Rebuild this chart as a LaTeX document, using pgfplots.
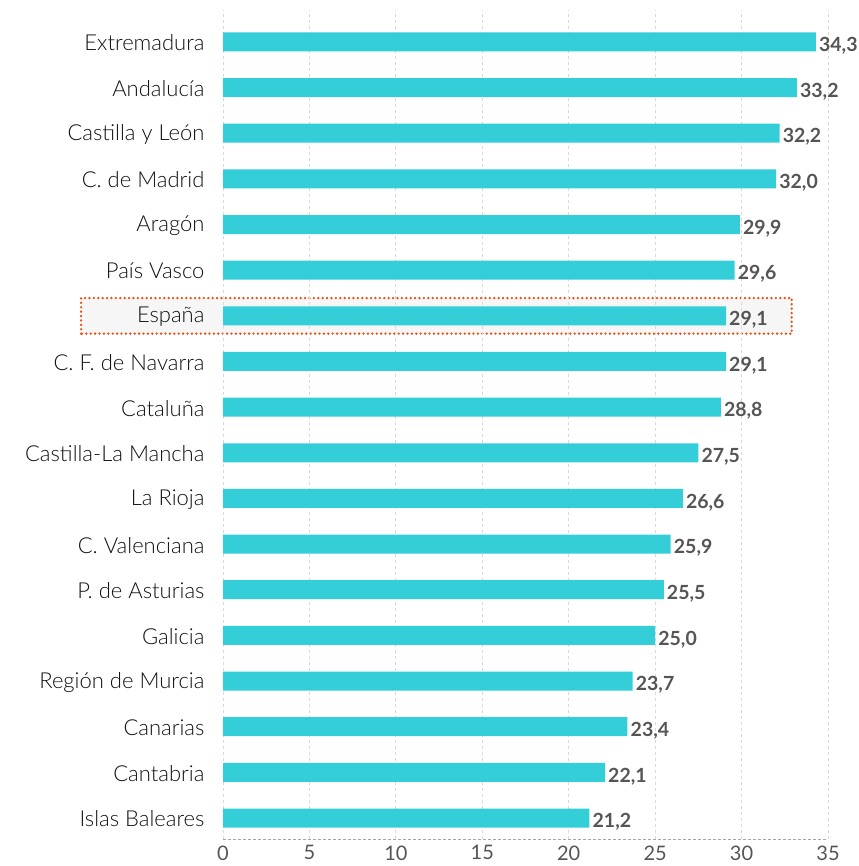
\documentclass[border=0pt]{standalone}
\usepackage{pgfplots}
\pgfplotsset{compat=1.18}
\usepackage{fontspec}
\setmainfont{Lato}
\newfontfamily\lightfont{Lato Light}
\definecolor{barc}{HTML}{33CED8}
\definecolor{hlorange}{HTML}{E8500F}
\definecolor{hlfill}{HTML}{F6F6F6}
\definecolor{valc}{HTML}{555555}
\definecolor{catc}{HTML}{111111}
\begin{document}
\begin{tikzpicture}
\begin{axis}[
  at={(0pt,0pt)}, anchor=south west,
  scale only axis, width=605pt, height=829pt,
  set layers=standard,
  xmin=0, xmax=35, ymin=-0.46, ymax=17.7,
  xbar, bar width=19pt,
  clip=false,
  axis lines*=left,
  axis line style={-},
  x axis line style={densely dashed, draw=gray!70, line width=0.8pt},
  y axis line style={draw=none},
  major tick length=0pt,
  xtick={0,5,...,35},
  ytick={0,...,17},
  yticklabels={Islas Baleares,Cantabria,Canarias,Región de Murcia,Galicia,P. de Asturias,C. Valenciana,La Rioja,Castilla-La Mancha,Cataluña,C. F. de Navarra,España,País Vasco,Aragón,C. de Madrid,Castilla y León,Andalucía,Extremadura},
  yticklabel style={font=\lightfont\fontsize{22}{26}\selectfont, text=catc, xshift=-15pt, yshift=-1pt},
  xticklabel style={font=\fontsize{20}{23}\selectfont, text=valc, yshift=-3pt},
  /pgf/number format/assume math mode=true,
  xmajorgrids,
  grid style={dashed, draw=gray!30, line width=0.8pt},
  nodes near coords,
  nodes near coords align={horizontal},
  every node near coord/.append style={font=\fontsize{19.5}{22}\selectfont\bfseries, text=valc, anchor=west, inner sep=3pt, yshift=-4pt,
    /pgf/number format/.cd, fixed, fixed zerofill, precision=1, use comma, assume math mode=true},
]
\begin{pgfonlayer}{axis background}
\filldraw[fill=hlfill, draw=hlorange, line width=2.6pt, line cap=round, dash pattern=on 0pt off 4.4pt]
  (axis cs:-8.21,10.61) rectangle (axis cs:32.9,11.39);
\end{pgfonlayer}
\addplot[fill=barc, draw=none] coordinates {
(21.2,0) (22.1,1) (23.4,2) (23.7,3) (25.0,4) (25.5,5) (25.9,6) (26.6,7) (27.5,8)
(28.8,9) (29.1,10) (29.1,11) (29.6,12) (29.9,13) (32.0,14) (32.2,15) (33.2,16) (34.3,17)
};
\end{axis}
\pgfresetboundingbox
\path (-223pt,-27pt) rectangle (635pt,839pt);
\end{tikzpicture}
\end{document}
